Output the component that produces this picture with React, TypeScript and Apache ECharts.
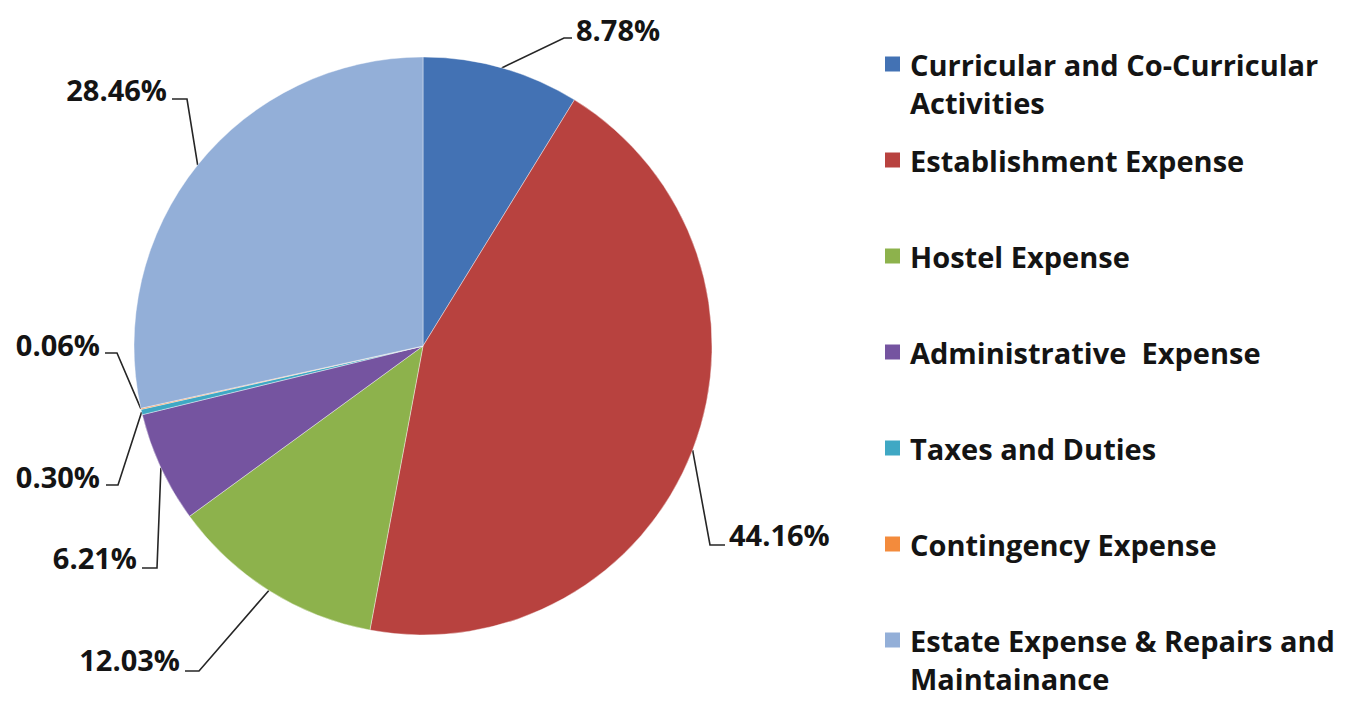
import React, { useEffect, useRef } from "react";
import * as echarts from "echarts";

const categories = [
  "Curricular and Co-Curricular Activities",
  "Establishment Expense",
  "Hostel Expense",
  "Administrative  Expense",
  "Taxes and Duties",
  "Contingency Expense",
  "Estate Expense & Repairs and Maintainance",
];
const shares = [8.78, 44.16, 12.03, 6.21, 0.3, 0.06, 28.46];
const sliceColors = ["#4372B4", "#B8423F", "#8DB24C", "#7554A0", "#3FA8C4", "#F38B3C", "#93AFD8"];

// label layout (positions of the percentage texts and their leader-line bends)
const labelPlacements = [
  { x: 576, y: 29, align: "left", bendX: 564, lineY: 38, endX: 572 },
  { x: 729, y: 534, align: "left", bendX: 710, lineY: 545, endX: 725 },
  { x: 180, y: 659, align: "right", bendX: 199, lineY: 671, endX: 185 },
  { x: 137, y: 557, align: "right", bendX: 157, lineY: 568, endX: 142 },
  { x: 100, y: 476, align: "right", bendX: 118, lineY: 485, endX: 106 },
  { x: 100, y: 344, align: "right", bendX: 117, lineY: 353, endX: 105 },
  { x: 167, y: 89, align: "right", bendX: 187, lineY: 99, endX: 172 },
];

const FONT = "'Open Sans'";
const FONT_SIZE = 29;
const LINE_H = 38;
const ITEM_STEP = 96;
const WRAP_CHARS = 30;

function wrapWords(text: string, max: number): string[] {
  const words = text.split(" ");
  const lines: string[] = [];
  let cur = "";
  for (const w of words) {
    const next = cur === "" ? w : cur + " " + w;
    if (next.length > max && cur !== "") {
      lines.push(cur);
      cur = w;
    } else {
      cur = next;
    }
  }
  if (cur !== "") lines.push(cur);
  return lines;
}

export default function App() {
  const ref = useRef<HTMLDivElement>(null);

  useEffect(() => {
    if (!ref.current) return;
    const chart = echarts.init(ref.current, undefined, { renderer: "svg" });

    const textCommon = {
      fontFamily: FONT,
      fontWeight: "bold",
      fontSize: FONT_SIZE,
      lineHeight: LINE_H,
      color: "#141414",
    };

    const legendData = categories.map((name) => {
      const n = wrapWords(name, WRAP_CHARS).length;
      return {
        name,
        textStyle: {
          padding: n > 1 ? [LINE_H, 0, 0, 4] : [LINE_H, 0, LINE_H, 4],
        },
      };
    });

    chart.setOption({
      animation: false,
      backgroundColor: "#ffffff",
      color: sliceColors,
      legend: {
        orient: "vertical",
        left: 883,
        top: 7,
        height: 760,
        padding: 0,
        itemGap: ITEM_STEP - 3 * LINE_H,
        itemWidth: 17,
        itemHeight: 17,
        icon: "rect",
        selectedMode: false,
        data: legendData,
        formatter: (name: string) =>
          wrapWords(name, WRAP_CHARS)
            .map((l) => "{t|" + l + "}")
            .join("\n"),
        textStyle: {
          ...textCommon,
          rich: { t: { ...textCommon } },
        },
      },
      series: [
        {
          type: "pie",
          center: [423, 346],
          radius: 289,
          startAngle: 90,
          clockwise: true,
          avoidLabelOverlap: false,
          emphasis: { disabled: true },
          itemStyle: { borderColor: "#ffffff", borderWidth: 0.4 },
          data: categories.map((name, i) => ({ name, value: shares[i] })),
          label: {
            show: true,
            position: "outside",
            formatter: (p: any) => Number(p.value).toFixed(2) + "%",
            fontFamily: FONT,
            fontWeight: "bold",
            fontSize: FONT_SIZE,
            color: "#141414",
          },
          labelLine: {
            show: true,
            length: 20,
            length2: 10,
            lineStyle: { color: "#262626", width: 1.6 },
          },
          labelLayout: (params: any) => {
            const p = labelPlacements[params.dataIndex];
            const pts = params.labelLinePoints;
            const out: any = {
              x: p.x,
              y: p.y,
              align: p.align,
              verticalAlign: "middle",
            };
            if (pts && pts.length) {
              out.labelLinePoints = [pts[0], [p.bendX, p.lineY], [p.endX, p.lineY]];
            }
            return out;
          },
        },
      ],
    });

    return () => chart.dispose();
  }, []);

  return (
    <div
      ref={ref}
      style={{ position: "absolute", left: 0, top: 0, width: 1348, height: 702 }}
    />
  );
}
